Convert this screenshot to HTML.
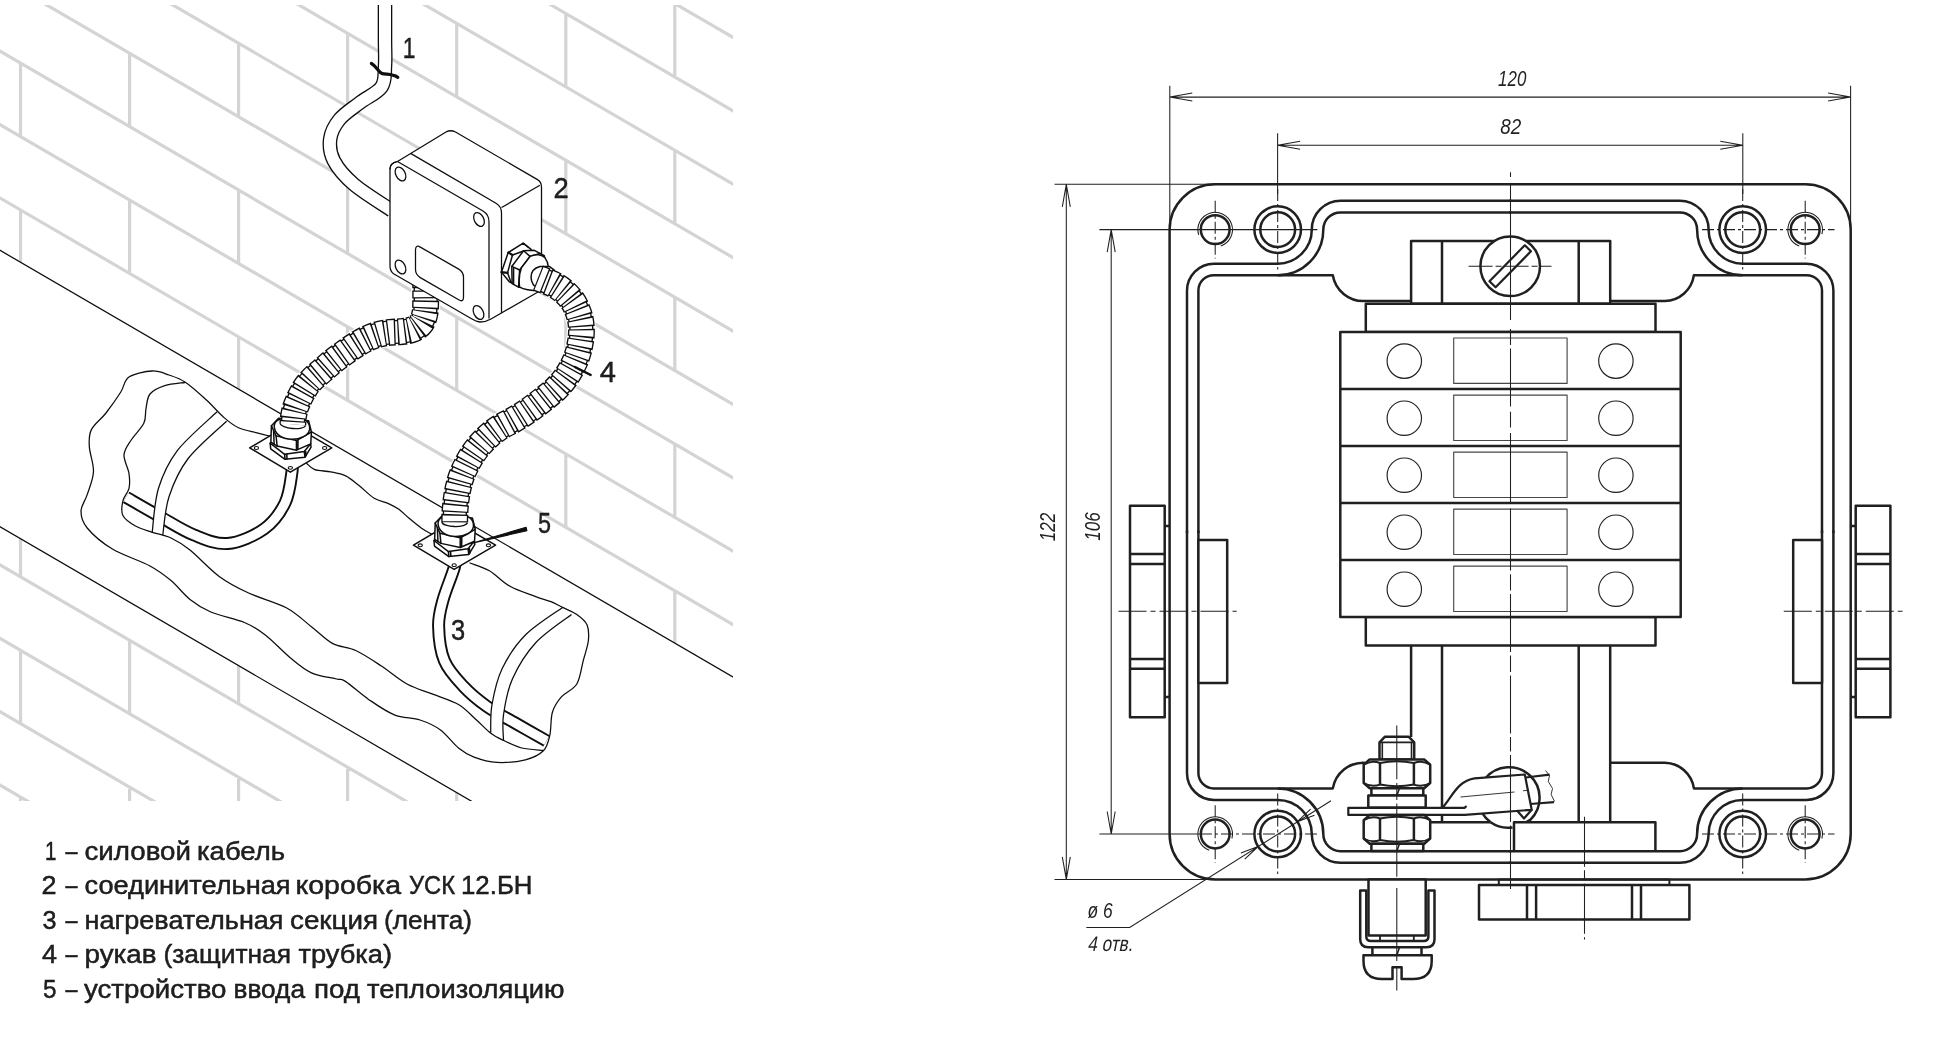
<!DOCTYPE html>
<html lang="ru"><head><meta charset="utf-8"><title>УСК 12.БН</title>
<style>
html,body{margin:0;padding:0;background:#fff}
body{width:1946px;height:1050px;overflow:hidden;font-family:"Liberation Sans",sans-serif}
svg{display:block;filter:grayscale(1)}
text{font-family:"Liberation Sans",sans-serif;fill:#231f20}
</style></head><body>
<svg width="1946" height="1050" viewBox="0 0 1946 1050">
<rect width="1946" height="1050" fill="#fff"/>
<defs><clipPath id="cl"><rect x="0" y="5" width="733" height="796"/></clipPath></defs>
<g clip-path="url(#cl)">
<g stroke="#d3d4d6" stroke-width="3.2" fill="none" stroke-linecap="butt">
<path d="M-5,1002.4 L740,1436 M-5,929 L740,1362.6 M-5,855.6 L740,1289.2 M-5,782.2 L740,1215.8 M-5,708.8 L740,1142.4 M-5,635.4 L740,1069 M-5,562 L740,995.6 M-5,488.6 L740,922.2 M-5,415.3 L740,848.8 M-5,341.9 L740,775.5 M-5,268.5 L740,702.1 M-5,195.1 L740,628.7 M-5,121.7 L740,555.3 M-5,48.3 L740,481.9 M-5,-25.1 L740,408.5 M-5,-98.5 L740,335.1 M-5,-171.9 L740,261.7 M-5,-245.3 L740,188.3 M-5,-318.7 L740,114.9 M-5,-392 L740,41.5 M-5,-465.4 L740,-31.8 M20.5,-84.6 V-9.2 M20.5,62.1 V137.5 M20.5,208.9 V284.3 M20.5,355.7 V431.1 M20.5,502.5 V577.9 M20.5,649.3 V724.7 M20.5,796 V871.4 M20.5,942.8 V1018.2 M20.5,1089.6 V1165 M20.5,1236.4 V1311.8 M129.6,-94.6 V-19.2 M129.6,52.2 V127.6 M129.6,199 V274.4 M129.6,345.8 V421.2 M129.6,492.6 V568 M129.6,639.3 V714.7 M129.6,786.1 V861.5 M129.6,932.9 V1008.3 M129.6,1079.7 V1155.1 M129.6,1226.5 V1301.9 M238.6,-104.5 V-29.1 M238.6,42.3 V117.7 M238.6,189.1 V264.5 M238.6,335.9 V411.2 M238.6,482.6 V558 M238.6,629.4 V704.8 M238.6,776.2 V851.6 M238.6,923 V998.4 M238.6,1069.8 V1145.1 M238.6,1216.5 V1291.9 M347.6,-114.4 V-39 M347.6,32.4 V107.8 M347.6,179.2 V254.5 M347.6,325.9 V401.3 M347.6,472.7 V548.1 M347.6,619.5 V694.9 M347.6,766.3 V841.7 M347.6,913.1 V988.4 M347.6,1059.8 V1135.2 M347.6,1206.6 V1282 M456.7,-124.3 V-48.9 M456.7,22.4 V97.8 M456.7,169.2 V244.6 M456.7,316 V391.4 M456.7,462.8 V538.2 M456.7,609.6 V685 M456.7,756.4 V831.7 M456.7,903.1 V978.5 M456.7,1049.9 V1125.3 M456.7,1196.7 V1272.1 M565.8,-134.3 V-58.9 M565.8,12.5 V87.9 M565.8,159.3 V234.7 M565.8,306.1 V381.5 M565.8,452.9 V528.3 M565.8,599.6 V675 M565.8,746.4 V821.8 M565.8,893.2 V968.6 M565.8,1040 V1115.4 M565.8,1186.8 V1262.2 M674.8,-144.2 V-68.8 M674.8,2.6 V78 M674.8,149.4 V224.8 M674.8,296.2 V371.6 M674.8,442.9 V518.3 M674.8,589.7 V665.1 M674.8,736.5 V811.9 M674.8,883.3 V958.7 M674.8,1030.1 V1105.5 M674.8,1176.8 V1252.2 "/>
</g>
<path d="M425.7,280 C425.7,282 425.7,288.4 425.7,292 C425.7,295.6 425.8,297.9 425.7,301.4 C425.6,304.9 425.7,309.3 425,312.9 C424.3,316.5 423.4,320.2 421.4,322.9 C419.4,325.6 416.2,327.9 412.9,329.3 C409.6,330.8 405.2,331.1 401.4,331.6 C397.6,332.1 393.8,331.9 390,332.3 C386.2,332.8 382.4,333.2 378.6,334.3 C374.8,335.4 370.9,336.8 367.1,338.6 C363.3,340.4 359.5,342.6 355.7,345 C351.9,347.4 348.1,350.2 344.3,352.9 C340.5,355.6 336.5,358.5 332.9,361.4 C329.3,364.2 326.2,367.1 322.9,370 C319.6,372.9 315.8,375.8 312.9,378.6 C310,381.5 307.8,384 305.7,387.1 C303.6,390.2 300.9,395.4 300,397.1" fill="none" stroke="#fff" stroke-width="29"/>
<path d="M554.3,284.8 C556,286 561.2,289 564.3,291.8 C567.4,294.6 570.6,298.1 572.9,301.4 C575.2,304.7 576.6,308.1 577.9,311.4 C579.2,314.7 580.1,317.8 580.7,321.4 C581.3,325 581.5,329.1 581.4,332.9 C581.3,336.7 580.7,340.5 580,344.3 C579.3,348.1 578.4,351.9 577.1,355.7 C575.8,359.5 574.1,363.3 572.1,367.1 C570.1,370.9 567.7,375 565,378.6 C562.3,382.2 559,385.8 555.7,389 C552.4,392.2 548.6,395.1 545,398 C541.4,400.9 537.5,403.9 534,406.5 C530.5,409.1 527.5,411.2 524,413.5 C520.5,415.8 517.3,417.7 513.3,420 C509.3,422.3 504,424.8 500,427.3 C496,429.9 492.6,432.4 489.3,435.3 C486,438.2 482.9,441.4 480,444.7 C477.1,448 474.3,451.8 472,455.3 C469.7,458.9 467.8,462.4 466,466 C464.2,469.6 462.6,472.9 461.3,476.7 C460,480.5 458.6,486.7 458,488.7" fill="none" stroke="#fff" stroke-width="29"/>
<polygon points="-5,247.4 740,681 740,810 486.6,810 -5,523.9" fill="#fff"/>
<g stroke="#0e0e0e" stroke-width="1.27" fill="none" stroke-linecap="round" stroke-linejoin="round">
<path d="M-5,247.4 L740,681 M-5,523.9 L486.6,810"/>
</g>
<path d="M126.2,497.3 C131.8,500.5 148.7,510.3 160,516.6 C171.3,522.9 182.7,530.5 194,535 C205.3,539.5 215.9,544.5 227.6,543.5 C239.3,542.5 254.4,535.8 264,529 C273.6,522.2 280.3,512.6 285,503 C289.7,493.4 290.9,479 292,471.5 C293.1,464 291.6,460.2 291.5,458" fill="none" stroke="#0e0e0e" stroke-width="13"/>
<path d="M126.2,497.3 C131.8,500.5 148.7,510.3 160,516.6 C171.3,522.9 182.7,530.5 194,535 C205.3,539.5 215.9,544.5 227.6,543.5 C239.3,542.5 254.4,535.8 264,529 C273.6,522.2 280.3,512.6 285,503 C289.7,493.4 290.9,479 292,471.5 C293.1,464 291.6,460.2 291.5,458" fill="none" stroke="#fff" stroke-width="9.2"/>
<path d="M454.4,556 C454.4,557.8 456.3,559.7 454.4,567 C452.5,574.3 445.6,590.2 443,600 C440.4,609.8 438.4,615.9 438.6,626 C438.8,636.1 440.2,650.7 444.4,660.8 C448.6,670.9 456.5,678.9 463.6,686.5 C470.7,694.1 478.3,700.3 487,706.5 C495.7,712.7 506.1,717.8 516,723.5 C525.9,729.2 541.4,737.9 546.5,740.8" fill="none" stroke="#0e0e0e" stroke-width="13"/>
<path d="M454.4,556 C454.4,557.8 456.3,559.7 454.4,567 C452.5,574.3 445.6,590.2 443,600 C440.4,609.8 438.4,615.9 438.6,626 C438.8,636.1 440.2,650.7 444.4,660.8 C448.6,670.9 456.5,678.9 463.6,686.5 C470.7,694.1 478.3,700.3 487,706.5 C495.7,712.7 506.1,717.8 516,723.5 C525.9,729.2 541.4,737.9 546.5,740.8" fill="none" stroke="#fff" stroke-width="9.2"/>
<path d="M217,411.8 C210.4,418.3 187.1,437.9 177.3,450.6 C167.6,463.4 162.7,474.7 158.5,488.3 C154.3,501.9 153.2,525 152.2,532.3 L162.7,535.4 C163.8,528.9 164.8,509.4 169,496.7 C173.2,484 178.2,471.6 187.8,459 C197.4,446.4 220.1,427.5 226.6,421.2 Z" fill="#fff" stroke="none"/>
<path d="M217,411.8 C210.4,418.3 187.1,437.9 177.3,450.6 C167.6,463.4 162.7,474.7 158.5,488.3 C154.3,501.9 153.2,525 152.2,532.3 M226.6,421.2 C220.1,427.5 197.4,446.4 187.8,459 C178.2,471.6 173.2,484 169,496.7 C164.8,509.4 163.8,528.9 162.7,535.4" fill="none" stroke="#0e0e0e" stroke-width="1.27"/>
<path d="M562.6,607.4 C556.4,612 535.5,624.8 525.4,635 C515.3,645.2 507.8,656.9 502.2,668.5 C496.6,680.1 493.9,693.8 492,704.5 C490.1,715.2 490.9,728.1 490.7,732.8 L503.5,740.5 C503.5,736.2 502,725.1 503.5,714.8 C505,704.5 507.1,690.8 512.5,678.8 C517.9,666.8 525.9,653.5 535.7,642.8 C545.6,632.1 565.6,619.2 571.6,614.5 Z" fill="#fff" stroke="none"/>
<path d="M562.6,607.4 C556.4,612 535.5,624.8 525.4,635 C515.3,645.2 507.8,656.9 502.2,668.5 C496.6,680.1 493.9,693.8 492,704.5 C490.1,715.2 490.9,728.1 490.7,732.8 M571.6,614.5 C565.6,619.2 545.6,632.1 535.7,642.8 C525.9,653.5 517.9,666.8 512.5,678.8 C507.1,690.8 505,704.5 503.5,714.8 C502,725.1 503.5,736.2 503.5,740.5" fill="none" stroke="#0e0e0e" stroke-width="1.27"/>
<g stroke="#0e0e0e" stroke-width="1.27" fill="none" stroke-linecap="round" stroke-linejoin="round">
<path d="M269.5,436 C267.4,435.5 262.2,434.2 257,432.8 C251.8,431.4 243.6,430.1 238,427.5 C232.4,424.9 228.6,421.5 223.4,417 C218.2,412.5 213,406.1 206.7,400.3 C200.4,394.6 192,386.7 185.7,382.5 C179.4,378.3 174.6,376.9 169,375 C163.4,373.1 158.9,370.7 152.2,371 C145.5,371.3 134.2,373.5 129,377 C123.8,380.5 124.6,386 120.8,392 C117,398 110.9,406.7 106,413 C101.1,419.3 94.2,424 91.4,429.6 C88.6,435.2 89,439.4 89.3,446.4 C89.6,453.4 93.8,463.5 93.5,471.5 C93.2,479.5 89.3,488 87.2,494.6 C85.1,501.2 81,505.7 81,511.3 C81,516.9 82,521.7 87.2,528 C92.4,534.3 101.9,542.7 112.4,549 C122.9,555.3 140.2,560.7 150,566 C159.8,571.3 164.3,575 171,580.6 C177.7,586.2 183.4,594.2 190,599.4 C196.6,604.6 201.7,608.1 210.8,612 C219.9,615.9 235.3,618.7 244.4,622.5 C253.5,626.3 257.6,629.1 265.3,635 C273,640.9 282.8,651.7 290.5,658 C298.2,664.3 303.7,669.3 311.4,672.8 C319.1,676.3 330.9,677.6 336.6,679 C342.3,680.4 340.1,678 345.4,681.4 C350.7,684.8 360.5,693.8 368.6,699.4 C376.8,705 385.7,711.4 394.3,714.8 C402.9,718.2 412.3,717.5 420,720 C427.7,722.5 434.1,725.3 440.5,730 C446.9,734.7 452.9,743.5 458.5,748 C464.1,752.5 467.6,754.8 474,757.2 C480.4,759.6 488.4,762 497,762.4 C505.6,762.8 517.7,761.7 525.4,759.8 C533.1,757.9 539.3,754.9 543.4,750.8 C547.5,746.7 548.3,741.8 549.8,735.4 C551.3,729 550.5,718.6 552.4,712.2 C554.3,705.8 557.3,701.5 561.4,696.8 C565.5,692.1 573.2,690 576.8,684 C580.4,678 581.3,668.1 583.2,660.8 C585.1,653.5 587.8,646.3 588.4,640.3 C589,634.3 588.9,629.1 587,624.8 C585.1,620.5 580.9,617.4 576.8,614.5 C572.7,611.6 566.9,609.5 562.6,607.4 C558.3,605.3 555.5,603.5 551,601.7 C546.5,599.9 542.5,599.2 535.7,596.6 C528.9,594 517.7,590.6 510,586.3 C502.3,582 496.1,574.7 489.4,570.8 C482.7,566.9 473.2,564.3 470,563"/>
<path d="M306.7,463.5 C308.1,464.5 310.8,468.3 314.8,469.7 C318.8,471.1 325.8,470.8 330.9,471.8 C336,472.8 341,473.6 345.7,475.9 C350.4,478.2 354.6,482.1 359.3,485.8 C364.1,489.5 369.2,495.2 374.2,498.2 C379.1,501.2 384.9,501.9 389,503.8 C393.1,505.7 395.6,506.9 398.9,509.3 C402.2,511.7 405.1,514.9 408.8,518 C412.5,521.1 417.4,525.2 421.2,527.9 C425,530.6 429.9,533.2 431.7,534.2"/>
<path d="M184.7,382.5 C181.4,383 170.6,383.7 164.8,385.6 C159,387.5 153.1,390.1 150,394 C146.9,397.9 147,403.8 146,408.7 C145,413.6 146.3,418.1 143.8,423.3 C141.3,428.5 134.5,434.8 131.2,440 C127.9,445.2 124.4,449.2 124,454.8 C123.6,460.4 128.2,468 129,473.6 C129.8,479.2 130,483.8 129,488.3 C128,492.9 123.9,496.4 122.9,500.9 C121.9,505.4 120.8,511.3 122.9,515.5 C125,519.7 130.5,523.2 135.4,526 C140.3,528.8 146.3,530.3 152.2,532.3 C158.1,534.3 164.7,535 171,538 C177.3,541 182,543.6 190,550 C198,556.4 209.4,569.2 219.2,576.4 C229,583.6 237.4,587.8 248.6,593 C259.8,598.2 275.8,602.2 286.3,607.8 C296.8,613.4 303.7,620.8 311.4,626.7 C319.1,632.6 325,639.4 332.4,643.4 C339.8,647.4 347.5,646.7 355.7,650.5 C363.9,654.3 372.8,660.4 381.4,666 C389.9,671.6 398.4,679.3 407,684 C415.6,688.7 424.2,690.8 432.8,694.2 C441.4,697.6 451.2,700.2 458.5,704.5 C465.8,708.8 471.1,715.2 476.5,720 C481.9,724.8 486.2,729.7 490.8,733.2 C495.4,736.7 499.2,738.3 504.4,740.8 C509.5,743.3 515.3,746.4 521.7,748 C528.1,749.6 539.3,750 542.8,750.4"/>
</g>
<path d="M385,0 C385,6.7 385,29 385,40 C385,51 385.6,58.2 385,66 C384.4,73.8 385.8,80.8 381.5,87 C377.2,93.2 366.5,97.6 359.5,103 C352.5,108.4 344.4,113.4 339.5,119.4 C334.6,125.4 331.1,132.1 330.2,139 C329.3,145.9 330,153.4 334,161 C338,168.6 344.3,176.2 354,184.5 C363.7,192.8 385.7,206.2 392,210.5" fill="none" stroke="#0e0e0e" stroke-width="14.6"/>
<path d="M385,0 C385,6.7 385,29 385,40 C385,51 385.6,58.2 385,66 C384.4,73.8 385.8,80.8 381.5,87 C377.2,93.2 366.5,97.6 359.5,103 C352.5,108.4 344.4,113.4 339.5,119.4 C334.6,125.4 331.1,132.1 330.2,139 C329.3,145.9 330,153.4 334,161 C338,168.6 344.3,176.2 354,184.5 C363.7,192.8 385.7,206.2 392,210.5" fill="none" stroke="#fff" stroke-width="12"/>
<path d="M371.4,63.5 C377,66.5 378.5,72.5 382.3,73.6 S392,73.5 397.8,77.3" fill="none" stroke="#0e0e0e" stroke-width="3.2" stroke-linecap="round"/>
<g transform="translate(240,405) scale(0.07143)" stroke="#0e0e0e" stroke-width="21" fill="#fff" stroke-linejoin="round" stroke-linecap="round">
<polygon points="135,600 705,262 1285,600 705,940"/>
<ellipse cx="230" cy="602" rx="30" ry="20" stroke-width="15"/><ellipse cx="1185" cy="602" rx="30" ry="20" stroke-width="15"/><ellipse cx="705" cy="880" rx="30" ry="20" stroke-width="15"/>
<polygon points="422,535 430,615 630,760 910,730 995,590 988,540 800,470 520,470"/>
<polyline points="422,535 625,690 900,650 988,542" fill="none"/>
<path d="M625,690 L630,760 M655,688 L658,756 M900,650 L910,730 M918,648 L926,710" fill="none" stroke-width="22"/>
<polygon points="440,290 432,520 520,575 790,632 990,545 1000,378 960,220 540,185"/>
<polyline points="440,290 505,432 790,498 1000,378" fill="none"/>
<path d="M505,432 L520,575 M790,498 L790,632 M812,492 L810,622 M470,360 L478,548" fill="none"/>
<path d="M480,310 C470,220 560,170 730,170 C900,170 985,230 975,340 C960,420 860,480 730,480 C600,480 495,420 480,310Z"/>
</g>
<g transform="translate(403.8,502.3) scale(0.07143)" stroke="#0e0e0e" stroke-width="21" fill="#fff" stroke-linejoin="round" stroke-linecap="round">
<polygon points="135,600 705,262 1285,600 705,940"/>
<ellipse cx="230" cy="602" rx="30" ry="20" stroke-width="15"/><ellipse cx="1185" cy="602" rx="30" ry="20" stroke-width="15"/><ellipse cx="705" cy="880" rx="30" ry="20" stroke-width="15"/>
<polygon points="422,535 430,615 630,760 910,730 995,590 988,540 800,470 520,470"/>
<polyline points="422,535 625,690 900,650 988,542" fill="none"/>
<path d="M625,690 L630,760 M655,688 L658,756 M900,650 L910,730 M918,648 L926,710" fill="none" stroke-width="22"/>
<polygon points="440,290 432,520 520,575 790,632 990,545 1000,378 960,220 540,185"/>
<polyline points="440,290 505,432 790,498 1000,378" fill="none"/>
<path d="M505,432 L520,575 M790,498 L790,632 M812,492 L810,622 M470,360 L478,548" fill="none"/>
<path d="M480,310 C470,220 560,170 730,170 C900,170 985,230 975,340 C960,420 860,480 730,480 C600,480 495,420 480,310Z"/>
</g>
<g fill="none">
<path d="M425.7,280 C425.7,282 425.7,288.4 425.7,292 C425.7,295.6 425.8,297.9 425.7,301.4 C425.6,304.9 425.7,309.3 425,312.9 C424.3,316.5 423.4,320.2 421.4,322.9 C419.4,325.6 416.2,327.9 412.9,329.3 C409.6,330.8 405.2,331.1 401.4,331.6 C397.6,332.1 393.8,331.9 390,332.3 C386.2,332.8 382.4,333.2 378.6,334.3 C374.8,335.4 370.9,336.8 367.1,338.6 C363.3,340.4 359.5,342.6 355.7,345 C351.9,347.4 348.1,350.2 344.3,352.9 C340.5,355.6 336.5,358.5 332.9,361.4 C329.3,364.2 326.2,367.1 322.9,370 C319.6,372.9 315.8,375.8 312.9,378.6 C310,381.5 307.8,384 305.7,387.1 C303.6,390.2 301.7,393.8 300,397.1 C298.3,400.4 296.8,404 295.7,407.1 C294.6,410.2 294.1,412.8 293.6,415.7 C293.1,418.6 292.9,423 292.8,424.5" stroke="#0e0e0e" stroke-width="24.2"/>
<path d="M425.7,280 C425.7,282 425.7,288.4 425.7,292 C425.7,295.6 425.8,297.9 425.7,301.4 C425.6,304.9 425.7,309.3 425,312.9 C424.3,316.5 423.4,320.2 421.4,322.9 C419.4,325.6 416.2,327.9 412.9,329.3 C409.6,330.8 405.2,331.1 401.4,331.6 C397.6,332.1 393.8,331.9 390,332.3 C386.2,332.8 382.4,333.2 378.6,334.3 C374.8,335.4 370.9,336.8 367.1,338.6 C363.3,340.4 359.5,342.6 355.7,345 C351.9,347.4 348.1,350.2 344.3,352.9 C340.5,355.6 336.5,358.5 332.9,361.4 C329.3,364.2 326.2,367.1 322.9,370 C319.6,372.9 315.8,375.8 312.9,378.6 C310,381.5 307.8,384 305.7,387.1 C303.6,390.2 301.7,393.8 300,397.1 C298.3,400.4 296.8,404 295.7,407.1 C294.6,410.2 294.1,412.8 293.6,415.7 C293.1,418.6 292.9,423 292.8,424.5" stroke="#fff" stroke-width="21.5"/>
<path d="M425.7,280 C425.7,282 425.7,288.4 425.7,292 C425.7,295.6 425.8,297.9 425.7,301.4 C425.6,304.9 425.7,309.3 425,312.9 C424.3,316.5 423.4,320.2 421.4,322.9 C419.4,325.6 416.2,327.9 412.9,329.3 C409.6,330.8 405.2,331.1 401.4,331.6 C397.6,332.1 393.8,331.9 390,332.3 C386.2,332.8 382.4,333.2 378.6,334.3 C374.8,335.4 370.9,336.8 367.1,338.6 C363.3,340.4 359.5,342.6 355.7,345 C351.9,347.4 348.1,350.2 344.3,352.9 C340.5,355.6 336.5,358.5 332.9,361.4 C329.3,364.2 326.2,367.1 322.9,370 C319.6,372.9 315.8,375.8 312.9,378.6 C310,381.5 307.8,384 305.7,387.1 C303.6,390.2 301.7,393.8 300,397.1 C298.3,400.4 296.8,404 295.7,407.1 C294.6,410.2 294.1,412.8 293.6,415.7 C293.1,418.6 292.9,423 292.8,424.5" stroke="#0e0e0e" stroke-width="26.9" stroke-dasharray="8.1 2.2"/>
<path d="M425.7,280 C425.7,282 425.7,288.4 425.7,292 C425.7,295.6 425.8,297.9 425.7,301.4 C425.6,304.9 425.7,309.3 425,312.9 C424.3,316.5 423.4,320.2 421.4,322.9 C419.4,325.6 416.2,327.9 412.9,329.3 C409.6,330.8 405.2,331.1 401.4,331.6 C397.6,332.1 393.8,331.9 390,332.3 C386.2,332.8 382.4,333.2 378.6,334.3 C374.8,335.4 370.9,336.8 367.1,338.6 C363.3,340.4 359.5,342.6 355.7,345 C351.9,347.4 348.1,350.2 344.3,352.9 C340.5,355.6 336.5,358.5 332.9,361.4 C329.3,364.2 326.2,367.1 322.9,370 C319.6,372.9 315.8,375.8 312.9,378.6 C310,381.5 307.8,384 305.7,387.1 C303.6,390.2 301.7,393.8 300,397.1 C298.3,400.4 296.8,404 295.7,407.1 C294.6,410.2 294.1,412.8 293.6,415.7 C293.1,418.6 292.9,423 292.8,424.5" stroke="#fff" stroke-width="24.2" stroke-dasharray="5.4 4.9" stroke-dashoffset="-1.35"/>
</g>
<path d="M280.1,424.5 A12.8,4.4 0 0 0 305.6,424.5" transform="rotate(5.2 292.8 424.5)" fill="#fff" stroke="#0e0e0e" stroke-width="1.27"/>
<g stroke="#0e0e0e" stroke-width="1.27" fill="#fff" stroke-linejoin="round" stroke-linecap="round">
<path d="M390,169 Q390,163 397.5,161.5 L446,132 Q450.5,129.5 455.5,132 L537.5,179.6 Q541.5,182 541.5,187 L541.5,286 Q541.5,290 538,292 L491,319 Q486,322 480,322 Q476,321.5 472,319 L394,274 Q390,271.5 390,266 Z"/>
<path d="M390,169 Q390,163 397.5,161.5 M397.5,161.5 L483,211 Q489,214.5 489,222 L489,318" fill="none"/>
<path d="M411,153.6 L496,203.3 Q501.5,206.5 501.5,213 L501.5,312.5" fill="none"/>
<path d="M502,207.3 L539.5,185.5" fill="none"/>
<ellipse cx="400.5" cy="174" rx="4.7" ry="7.4" transform="rotate(-27 400.5 174)"/>
<ellipse cx="479" cy="219.5" rx="4.7" ry="7.4" transform="rotate(-27 479 219.5)"/>
<ellipse cx="400.5" cy="267" rx="4.7" ry="7.4" transform="rotate(-27 400.5 267)"/>
<ellipse cx="478.5" cy="312.5" rx="4.7" ry="7.4" transform="rotate(-27 478.5 312.5)"/>
<path d="M415.5,249.9 Q415.5,244.4 420.3,247.1 L458.7,269.1 Q463.5,271.8 463.5,277.3 L463.5,297.1 Q463.5,302.6 458.7,299.8 L420.3,277.6 Q415.5,274.8 415.5,269.3 Z"/>
</g>
<g transform="translate(490,230) scale(0.07143)" stroke="#0e0e0e" stroke-width="21" fill="#fff" stroke-linejoin="round" stroke-linecap="round">
<polygon points="160,590 255,315 465,185 575,270 600,420 420,800 295,735 270,725"/>
<polyline points="245,600 315,350 480,290" fill="none"/>
<path d="M255,315 L315,350 M160,590 L245,600" fill="none" stroke-width="30"/>
<path d="M245,600 L295,735 M465,185 L530,238" fill="none"/>
<polygon points="305,510 470,290 620,285 760,360 790,520 640,800 400,800 310,750"/>
<polyline points="305,510 415,560 560,370 470,290" fill="none"/>
<path d="M415,560 L400,800 M560,370 L700,330 M330,530 L330,760" fill="none"/>
<path d="M560,370 C640,330 730,340 770,390 C800,430 815,470 815,510 L700,850 C600,850 480,840 415,800 C400,700 410,610 440,530 Z"/>
<path d="M700,850 C620,800 575,740 575,660 C575,590 620,530 700,510 L830,510 L900,560 L760,880 Z"/>
</g>
<g fill="none">
<path d="M538,278 C539.2,278.5 542.8,279.9 545.5,281 C548.2,282.1 551.2,283 554.3,284.8 C557.4,286.6 561.2,289 564.3,291.8 C567.4,294.6 570.6,298.1 572.9,301.4 C575.2,304.7 576.6,308.1 577.9,311.4 C579.2,314.7 580.1,317.8 580.7,321.4 C581.3,325 581.5,329.1 581.4,332.9 C581.3,336.7 580.7,340.5 580,344.3 C579.3,348.1 578.4,351.9 577.1,355.7 C575.8,359.5 574.1,363.3 572.1,367.1 C570.1,370.9 567.7,375 565,378.6 C562.3,382.2 559,385.8 555.7,389 C552.4,392.2 548.6,395.1 545,398 C541.4,400.9 537.5,403.9 534,406.5 C530.5,409.1 527.5,411.2 524,413.5 C520.5,415.8 517.3,417.7 513.3,420 C509.3,422.3 504,424.8 500,427.3 C496,429.9 492.6,432.4 489.3,435.3 C486,438.2 482.9,441.4 480,444.7 C477.1,448 474.3,451.8 472,455.3 C469.7,458.9 467.8,462.4 466,466 C464.2,469.6 462.6,472.9 461.3,476.7 C460,480.5 458.9,484.7 458,488.7 C457.1,492.7 456.5,496.7 456,500.7 C455.5,504.7 455.1,509.1 454.9,512.7 C454.7,516.3 454.7,520.9 454.7,522.5" stroke="#0e0e0e" stroke-width="24.2"/>
<path d="M538,278 C539.2,278.5 542.8,279.9 545.5,281 C548.2,282.1 551.2,283 554.3,284.8 C557.4,286.6 561.2,289 564.3,291.8 C567.4,294.6 570.6,298.1 572.9,301.4 C575.2,304.7 576.6,308.1 577.9,311.4 C579.2,314.7 580.1,317.8 580.7,321.4 C581.3,325 581.5,329.1 581.4,332.9 C581.3,336.7 580.7,340.5 580,344.3 C579.3,348.1 578.4,351.9 577.1,355.7 C575.8,359.5 574.1,363.3 572.1,367.1 C570.1,370.9 567.7,375 565,378.6 C562.3,382.2 559,385.8 555.7,389 C552.4,392.2 548.6,395.1 545,398 C541.4,400.9 537.5,403.9 534,406.5 C530.5,409.1 527.5,411.2 524,413.5 C520.5,415.8 517.3,417.7 513.3,420 C509.3,422.3 504,424.8 500,427.3 C496,429.9 492.6,432.4 489.3,435.3 C486,438.2 482.9,441.4 480,444.7 C477.1,448 474.3,451.8 472,455.3 C469.7,458.9 467.8,462.4 466,466 C464.2,469.6 462.6,472.9 461.3,476.7 C460,480.5 458.9,484.7 458,488.7 C457.1,492.7 456.5,496.7 456,500.7 C455.5,504.7 455.1,509.1 454.9,512.7 C454.7,516.3 454.7,520.9 454.7,522.5" stroke="#fff" stroke-width="21.5"/>
<path d="M538,278 C539.2,278.5 542.8,279.9 545.5,281 C548.2,282.1 551.2,283 554.3,284.8 C557.4,286.6 561.2,289 564.3,291.8 C567.4,294.6 570.6,298.1 572.9,301.4 C575.2,304.7 576.6,308.1 577.9,311.4 C579.2,314.7 580.1,317.8 580.7,321.4 C581.3,325 581.5,329.1 581.4,332.9 C581.3,336.7 580.7,340.5 580,344.3 C579.3,348.1 578.4,351.9 577.1,355.7 C575.8,359.5 574.1,363.3 572.1,367.1 C570.1,370.9 567.7,375 565,378.6 C562.3,382.2 559,385.8 555.7,389 C552.4,392.2 548.6,395.1 545,398 C541.4,400.9 537.5,403.9 534,406.5 C530.5,409.1 527.5,411.2 524,413.5 C520.5,415.8 517.3,417.7 513.3,420 C509.3,422.3 504,424.8 500,427.3 C496,429.9 492.6,432.4 489.3,435.3 C486,438.2 482.9,441.4 480,444.7 C477.1,448 474.3,451.8 472,455.3 C469.7,458.9 467.8,462.4 466,466 C464.2,469.6 462.6,472.9 461.3,476.7 C460,480.5 458.9,484.7 458,488.7 C457.1,492.7 456.5,496.7 456,500.7 C455.5,504.7 455.1,509.1 454.9,512.7 C454.7,516.3 454.7,520.9 454.7,522.5" stroke="#0e0e0e" stroke-width="26.9" stroke-dasharray="8.1 2.2"/>
<path d="M538,278 C539.2,278.5 542.8,279.9 545.5,281 C548.2,282.1 551.2,283 554.3,284.8 C557.4,286.6 561.2,289 564.3,291.8 C567.4,294.6 570.6,298.1 572.9,301.4 C575.2,304.7 576.6,308.1 577.9,311.4 C579.2,314.7 580.1,317.8 580.7,321.4 C581.3,325 581.5,329.1 581.4,332.9 C581.3,336.7 580.7,340.5 580,344.3 C579.3,348.1 578.4,351.9 577.1,355.7 C575.8,359.5 574.1,363.3 572.1,367.1 C570.1,370.9 567.7,375 565,378.6 C562.3,382.2 559,385.8 555.7,389 C552.4,392.2 548.6,395.1 545,398 C541.4,400.9 537.5,403.9 534,406.5 C530.5,409.1 527.5,411.2 524,413.5 C520.5,415.8 517.3,417.7 513.3,420 C509.3,422.3 504,424.8 500,427.3 C496,429.9 492.6,432.4 489.3,435.3 C486,438.2 482.9,441.4 480,444.7 C477.1,448 474.3,451.8 472,455.3 C469.7,458.9 467.8,462.4 466,466 C464.2,469.6 462.6,472.9 461.3,476.7 C460,480.5 458.9,484.7 458,488.7 C457.1,492.7 456.5,496.7 456,500.7 C455.5,504.7 455.1,509.1 454.9,512.7 C454.7,516.3 454.7,520.9 454.7,522.5" stroke="#fff" stroke-width="24.2" stroke-dasharray="5.4 4.9" stroke-dashoffset="-1.35"/>
</g>
<path d="M441.9,522.5 A12.8,4.4 0 0 0 467.4,522.5" transform="rotate(1.2 454.7 522.5)" fill="#fff" stroke="#0e0e0e" stroke-width="1.27"/>
</g>
<g font-size="28.6px" stroke="#0e0e0e" stroke-width="0.4">
<text x="402.7" y="58" textLength="12.7" lengthAdjust="spacingAndGlyphs">1</text>
<text x="553.6" y="198" textLength="15.2" lengthAdjust="spacingAndGlyphs">2</text>
<text x="450.9" y="640.4" textLength="14.2" lengthAdjust="spacingAndGlyphs">3</text>
<text x="599.8" y="381.9" textLength="16.2" lengthAdjust="spacingAndGlyphs">4</text>
<text x="538" y="533" textLength="13" lengthAdjust="spacingAndGlyphs">5</text>
</g>
<path d="M574.6,366 L591.6,374.6 L590.9,375.9 L574.4,367.6 Z" fill="#0e0e0e" stroke="#0e0e0e" stroke-width="0.9" stroke-linejoin="round"/>
<path d="M471,543.5 L526.1,527.3 L526.9,530.7 Z" fill="#0e0e0e" stroke="#0e0e0e" stroke-width="1.1" stroke-linejoin="round"/>
<g font-size="25.6px" stroke="#0e0e0e" stroke-width="0.45">
<text x="44.9" y="859.5" textLength="11.4" lengthAdjust="spacingAndGlyphs">1</text>
<text x="65.5" y="859.5" textLength="12" lengthAdjust="spacingAndGlyphs">–</text>
<text x="84.5" y="859.5" textLength="106.5" lengthAdjust="spacingAndGlyphs">силовой</text>
<text x="197" y="859.5" textLength="88" lengthAdjust="spacingAndGlyphs">кабель</text>
<text x="41.5" y="894" textLength="15" lengthAdjust="spacingAndGlyphs">2</text>
<text x="65.5" y="894" textLength="12" lengthAdjust="spacingAndGlyphs">–</text>
<text x="84.5" y="894" textLength="206" lengthAdjust="spacingAndGlyphs">соединительная</text>
<text x="295.5" y="894" textLength="105.5" lengthAdjust="spacingAndGlyphs">коробка</text>
<text x="409" y="894" textLength="46" lengthAdjust="spacingAndGlyphs">УСК</text>
<text x="461" y="894" textLength="71.5" lengthAdjust="spacingAndGlyphs">12.БН</text>
<text x="42.5" y="928.5" textLength="14" lengthAdjust="spacingAndGlyphs">3</text>
<text x="65.5" y="928.5" textLength="12" lengthAdjust="spacingAndGlyphs">–</text>
<text x="84.5" y="928.5" textLength="199" lengthAdjust="spacingAndGlyphs">нагревательная</text>
<text x="290" y="928.5" textLength="88" lengthAdjust="spacingAndGlyphs">секция</text>
<text x="384" y="928.5" textLength="88" lengthAdjust="spacingAndGlyphs">(лента)</text>
<text x="42" y="962.8" textLength="15" lengthAdjust="spacingAndGlyphs">4</text>
<text x="65.5" y="962.8" textLength="12" lengthAdjust="spacingAndGlyphs">–</text>
<text x="84.5" y="962.8" textLength="72" lengthAdjust="spacingAndGlyphs">рукав</text>
<text x="163.5" y="962.8" textLength="127.5" lengthAdjust="spacingAndGlyphs">(защитная</text>
<text x="298.5" y="962.8" textLength="93.5" lengthAdjust="spacingAndGlyphs">трубка)</text>
<text x="43" y="998" textLength="13.5" lengthAdjust="spacingAndGlyphs">5</text>
<text x="65.5" y="998" textLength="12" lengthAdjust="spacingAndGlyphs">–</text>
<text x="84" y="998" textLength="142.5" lengthAdjust="spacingAndGlyphs">устройство</text>
<text x="233.5" y="998" textLength="71.5" lengthAdjust="spacingAndGlyphs">ввода</text>
<text x="314" y="998" textLength="46" lengthAdjust="spacingAndGlyphs">под</text>
<text x="367" y="998" textLength="197.5" lengthAdjust="spacingAndGlyphs">теплоизоляцию</text>
</g>
<g stroke="#231f20" fill="none" stroke-width="2.5" stroke-linejoin="round">
<rect x="1169.6" y="184.3" width="681.1" height="695.1" rx="45.5" ry="45.5" fill="#fff"/>
<path transform="translate(1510.2,531.8) scale(1,1) translate(-1510.2,-531.8)" d="M1187,530.5 V772.9 A27,27 0 0 0 1214,799.9 H1277.7 A34.1,34.1 0 0 1 1311.8,834 A28.8,28.8 0 0 0 1340.6,862.8 H1511.2 M1198.4,530.5 V773 A15.4,15.4 0 0 0 1213.8,788.4 H1277.7 A45.6,45.6 0 0 1 1323.3,834 A17.2,17.2 0 0 0 1340.5,851.2 H1511.2"/>
<path transform="translate(1510.2,531.8) scale(1,-1) translate(-1510.2,-531.8)" d="M1187,530.5 V772.9 A27,27 0 0 0 1214,799.9 H1277.7 A34.1,34.1 0 0 1 1311.8,834 A28.8,28.8 0 0 0 1340.6,862.8 H1511.2 M1198.4,530.5 V773 A15.4,15.4 0 0 0 1213.8,788.4 H1277.7 A45.6,45.6 0 0 1 1323.3,834 A17.2,17.2 0 0 0 1340.5,851.2 H1511.2"/>
<path transform="translate(1510.2,531.8) scale(-1,1) translate(-1510.2,-531.8)" d="M1187,530.5 V772.9 A27,27 0 0 0 1214,799.9 H1277.7 A34.1,34.1 0 0 1 1311.8,834 A28.8,28.8 0 0 0 1340.6,862.8 H1511.2 M1198.4,530.5 V773 A15.4,15.4 0 0 0 1213.8,788.4 H1277.7 A45.6,45.6 0 0 1 1323.3,834 A17.2,17.2 0 0 0 1340.5,851.2 H1511.2"/>
<path transform="translate(1510.2,531.8) scale(-1,-1) translate(-1510.2,-531.8)" d="M1187,530.5 V772.9 A27,27 0 0 0 1214,799.9 H1277.7 A34.1,34.1 0 0 1 1311.8,834 A28.8,28.8 0 0 0 1340.6,862.8 H1511.2 M1198.4,530.5 V773 A15.4,15.4 0 0 0 1213.8,788.4 H1277.7 A45.6,45.6 0 0 1 1323.3,834 A17.2,17.2 0 0 0 1340.5,851.2 H1511.2"/>
<path d="M1277.7,788.4 H1332.8 A31,31 0 0 1 1364.8,762.7"/>
<path d="M1277.7,275.2 H1332.8 A31,31 0 0 0 1364.8,301 H1411"/>
<path d="M1742.6,788.4 H1693.9 A30,30 0 0 0 1664.8,762.7 H1610.2"/>
<path d="M1742.6,275.2 H1693.9 A30,30 0 0 1 1664.8,301 H1610.2"/>
<circle cx="1277.7" cy="229.6" r="23.3"/><circle cx="1277.7" cy="229.6" r="17.4"/>
<circle cx="1215.2" cy="229.6" r="14.4"/>
<path d="M1198.7,234.9 A17.3,17.3 0 1 1 1220.8,246" stroke-width="1.05"/>
<circle cx="1277.7" cy="834" r="23.3"/><circle cx="1277.7" cy="834" r="17.4"/>
<circle cx="1215.2" cy="834" r="14.4"/>
<path d="M1209.2,850.3 A17.3,17.3 0 1 1 1231.9,838.5" stroke-width="1.05"/>
<circle cx="1742.7" cy="229.6" r="23.3"/><circle cx="1742.7" cy="229.6" r="17.4"/>
<circle cx="1805.2" cy="229.6" r="14.4"/>
<path d="M1799.2,245.9 A17.3,17.3 0 1 1 1821.9,234.1" stroke-width="1.05"/>
<circle cx="1742.7" cy="834" r="23.3"/><circle cx="1742.7" cy="834" r="17.4"/>
<circle cx="1805.2" cy="834" r="14.4"/>
<path d="M1799.2,850.3 A17.3,17.3 0 1 1 1821.9,838.5" stroke-width="1.05"/>
<path d="M1411.1,645.4 V737 M1442,645.4 V822.3 M1578.7,645.4 V822.3 M1610.2,645.4 V822.3"/>
<path d="M1430.2,822.3 H1490.5"/>
<rect x="1411.1" y="241" width="199.1" height="62.7" fill="#fff"/>
<path d="M1442,241 V303.7 M1578.7,241 V303.7"/>
<rect x="1365.8" y="303.7" width="289.7" height="28.2" fill="#fff"/>
<rect x="1365.8" y="617" width="289.7" height="28.4" fill="#fff"/>
<rect x="1340.3" y="331.9" width="340.4" height="285.1" fill="#fff"/>
<path d="M1340.3,389 H1680.7 M1340.3,446 H1680.7 M1340.3,503 H1680.7 M1340.3,560 H1680.7"/>
<g stroke-width="1.15">
<circle cx="1404.3" cy="361.1" r="17.2"/><circle cx="1615.9" cy="361.1" r="17.2"/>
<rect x="1453.7" y="338" width="113.4" height="45.4" stroke="#4a4648"/>
<circle cx="1404.3" cy="418.2" r="17.2"/><circle cx="1615.9" cy="418.2" r="17.2"/>
<rect x="1453.7" y="395.1" width="113.4" height="45.4" stroke="#4a4648"/>
<circle cx="1404.3" cy="475.2" r="17.2"/><circle cx="1615.9" cy="475.2" r="17.2"/>
<rect x="1453.7" y="452.1" width="113.4" height="45.4" stroke="#4a4648"/>
<circle cx="1404.3" cy="532.2" r="17.2"/><circle cx="1615.9" cy="532.2" r="17.2"/>
<rect x="1453.7" y="509.1" width="113.4" height="45.4" stroke="#4a4648"/>
<circle cx="1404.3" cy="589.2" r="17.2"/><circle cx="1615.9" cy="589.2" r="17.2"/>
<rect x="1453.7" y="566.1" width="113.4" height="45.4" stroke="#4a4648"/>
</g>
<circle cx="1510.2" cy="266.3" r="29.8" fill="#fff"/>
<rect x="1485" y="262" width="50.4" height="8.6" transform="rotate(-45.5 1510.2 266.3)" stroke-width="2.2"/>
<g transform="translate(1510.2,0) scale(1,1) translate(-1510.2,0)">
<rect x="1130" y="505.8" width="34.7" height="211.4" fill="#fff"/>
<path d="M1130,553.9 H1164.7 M1130,563.9 H1164.7 M1130,659 H1164.7 M1130,668.8 H1164.7"/>
<path d="M1169.6,526 H1164.7 M1169.6,697 H1164.7"/>
<rect x="1198.4" y="540" width="28.8" height="143" fill="#fff"/>
</g>
<g transform="translate(1510.2,0) scale(-1,1) translate(-1510.2,0)">
<rect x="1130" y="505.8" width="34.7" height="211.4" fill="#fff"/>
<path d="M1130,553.9 H1164.7 M1130,563.9 H1164.7 M1130,659 H1164.7 M1130,668.8 H1164.7"/>
<path d="M1169.6,526 H1164.7 M1169.6,697 H1164.7"/>
<rect x="1198.4" y="540" width="28.8" height="143" fill="#fff"/>
</g>
<rect x="1498.8" y="879.4" width="170.6" height="5.6" stroke-width="2"/>
<rect x="1479" y="885" width="210.4" height="34.5" fill="#fff"/>
<path d="M1527,885 V919.5 M1536.1,885 V919.5 M1632,885 V919.5 M1641,885 V919.5"/>
<path d="M1514,851 V822.3 H1655.4 V851"/>
<path d="M1490.6,822.3 A30.6,30.6 0 1 1 1530.5,819.6 L1526,822.3"/>
<path d="M1490.6,822.3 A30.6,30.6 0 0 0 1512.5,827.4" />
<g stroke-width="2.2">
<path d="M1525.7,777.5 L1549.6,774.6 M1530.2,804 L1554,802.2" />
<path d="M1545.5,770.5 l4,5 l-1.2,6 l4.2,7 l-1.4,6 l3.5,7" stroke-width="0.9"/>
<path d="M1442.5,807.6 C1452,797 1458,780.5 1474.5,778.3 L1524.8,774.5 L1531.7,809.8 L1464.8,814.9 L1348.3,814.9 V807.9 H1464.5 L1466.5,806" fill="#fff"/>
<path d="M1517,810.6 L1524,818.5 L1531.7,809.8" />
<path d="M1460.5,797 L1514.5,792 M1523,790.8 L1529,790.2" stroke-width="0.9"/>
</g>
<g fill="#fff">
<path d="M1379.5,759.4 V742.4 L1385,736.7 H1408.6 L1414.2,742.4 V759.4 Z"/>
<path d="M1379.5,742.4 H1414.2 M1382.3,742.4 V759.4 M1411.5,742.4 V759.4" stroke-width="1.6"/>
<path d="M1363.7,764.6 L1369.7,759.4 H1424.2 L1430.2,764.6 V783 L1424.2,788.2 H1369.7 L1363.7,783 Z"/>
<path d="M1380,762.9 V784.7 M1413.9,762.9 V784.7" fill="none"/>
<path d="M1363.7,764.6 Q1371.7,759.9 1380,763 Q1396.8,759.6 1413.9,763 Q1422.2,759.9 1430.2,764.6" fill="none" stroke-width="2"/>
<path d="M1363.7,783 Q1371.7,787.7 1380,784.6 Q1396.8,788 1413.9,784.6 Q1422.2,787.7 1430.2,783" fill="none" stroke-width="2"/>
<rect x="1371.4" y="788.2" width="51.9" height="7.2"/>
<rect x="1368.3" y="795.4" width="57.4" height="12.2"/>
<path d="M1363.7,820.1 L1369.7,814.9 H1424.2 L1430.2,820.1 V838.5 L1424.2,843.7 H1369.7 L1363.7,838.5 Z"/>
<path d="M1380,818.4 V840.2 M1413.9,818.4 V840.2" fill="none"/>
<path d="M1363.7,820.1 Q1371.7,815.4 1380,818.5 Q1396.8,815.1 1413.9,818.5 Q1422.2,815.4 1430.2,820.1" fill="none" stroke-width="2"/>
<path d="M1363.7,838.5 Q1371.7,843.2 1380,840.1 Q1396.8,843.5 1413.9,840.1 Q1422.2,843.2 1430.2,838.5" fill="none" stroke-width="2"/>
<rect x="1371.4" y="843.7" width="51.9" height="7.4"/>
<rect x="1368.5" y="879.4" width="57.2" height="56"/>
<path d="M1360.2,890.4 H1366.3 V936.5 Q1366.3,941 1371,941 H1423.7 Q1428.4,941 1428.4,936.5 V890.4 H1434.5 V939.3 Q1434.5,947.3 1426.5,947.3 H1368.2 Q1360.2,947.3 1360.2,939.3 Z"/>
<path d="M1380,935.4 V941 M1413.8,935.4 V941" stroke-width="1.8"/>
<rect x="1372.4" y="947.3" width="49.1" height="8"/>
<path d="M1363.5,955.3 H1431.7 V961 Q1431.7,979 1413,979 H1401.6 V967.2 H1392.5 V979 H1382 Q1363.5,979 1363.5,961 Z"/>
<path d="M1399.5,788.2 L1396.8,795.4 M1399.5,843.7 L1396.8,851.1 M1399.5,947.3 L1396.8,955.3" stroke-width="1.6"/>
</g>
</g>
<g stroke="#231f20" fill="none" stroke-width="1.05">
<path d="M1510.5,172.3 V177 M1510.5,183 V320 M1510.5,329 V345 M1510.5,348.5 V406.5 M1510.5,411.8 V427.6 M1510.5,433 V503.3 M1510.5,508.6 V570.6 M1510.5,574.2 V590.5 M1510.5,594.1 V652 M1510.5,655.6 V671.9 M1510.5,675.5 V733.4 M1510.5,737 V751.5 M1510.5,755 V822 M1510.5,825.6 V889"/>
<path d="M1584.5,816.7 V939.5" stroke-dasharray="50 3.5 10 3.5"/>
<path d="M1396.8,725.5 V779.3 M1396.8,783 V800 M1396.8,803.5 V876.8 M1396.8,888 V961 M1396.8,967.8 V990.6"/>
<path d="M1118.5,611.2 H1236.7 M1783.8,611.2 H1902.6" stroke-dasharray="28 4 5 4"/>
<path d="M1468.6,266.3 H1551.5" stroke-dasharray="24 3 6 3"/>
<g stroke-dasharray="12 3 3 3">
<path d="M1702,229.6 H1834.5"/>
<path d="M1215.2,200.8 V258.4"/>
<path d="M1277.7,189.1 V269.6"/>
<path d="M1805.2,200.8 V258.4"/>
<path d="M1742.7,189.1 V269.6"/>
<path d="M1200,834 H1318 M1702,834 H1834.5"/>
<path d="M1215.2,805.2 V862.8"/>
<path d="M1277.7,793.5 V874"/>
<path d="M1805.2,805.2 V862.8"/>
<path d="M1742.7,793.5 V874"/>
</g>
<path d="M1169.8,85.7 V229 M1850.6,85.7 V229 M1169.8,97.1 H1850.6 M1192.3,93.1 L1169.8,97.1 L1192.3,101.1 M1828.1,101.1 L1850.6,97.1 L1828.1,93.1"/>
<path d="M1277.6,133.3 V194 M1742.8,133.3 V194 M1277.6,145.2 H1742.8 M1300.1,141.2 L1277.6,145.2 L1300.1,149.2 M1720.3,149.2 L1742.8,145.2 L1720.3,141.2"/>
<path d="M1054.5,184.3 H1215 M1054.5,879.4 H1215 M1066.3,184.3 V879.4 M1070.3,206.8 L1066.3,184.3 L1062.3,206.8 M1062.3,856.9 L1066.3,879.4 L1070.3,856.9"/>
<path d="M1099.4,229.6 H1317.4 M1099.4,834 H1201 M1111.2,229.6 V834 M1115.2,252.1 L1111.2,229.6 L1107.2,252.1 M1107.2,811.5 L1111.2,834 L1115.2,811.5"/>
<path d="M1086.3,927.4 H1129.7 L1331,800.7 M1244.8,859.1 L1258.1,846.5 L1240.9,853 M1310.6,809.1 L1297.3,821.7 L1314.5,815.2"/>
</g>
<g font-style="italic" font-size="21.2px">
<text x="1498.1" y="85.9" textLength="28.2" lengthAdjust="spacingAndGlyphs">120</text>
<text x="1500.2" y="134.4" textLength="21" lengthAdjust="spacingAndGlyphs">82</text>
<text transform="translate(1055.4,541.2) rotate(-90)" textLength="28.4" lengthAdjust="spacingAndGlyphs">122</text>
<text transform="translate(1100.2,540.8) rotate(-90)" textLength="28.4" lengthAdjust="spacingAndGlyphs">106</text>
<text x="1087.4" y="917.8" textLength="25.2" lengthAdjust="spacingAndGlyphs">ø 6</text>
<text transform="translate(1087.2,951) skewX(-11)" font-style="normal" textLength="45.3" lengthAdjust="spacingAndGlyphs">4 отв.</text>
</g>
</svg>
</body></html>
